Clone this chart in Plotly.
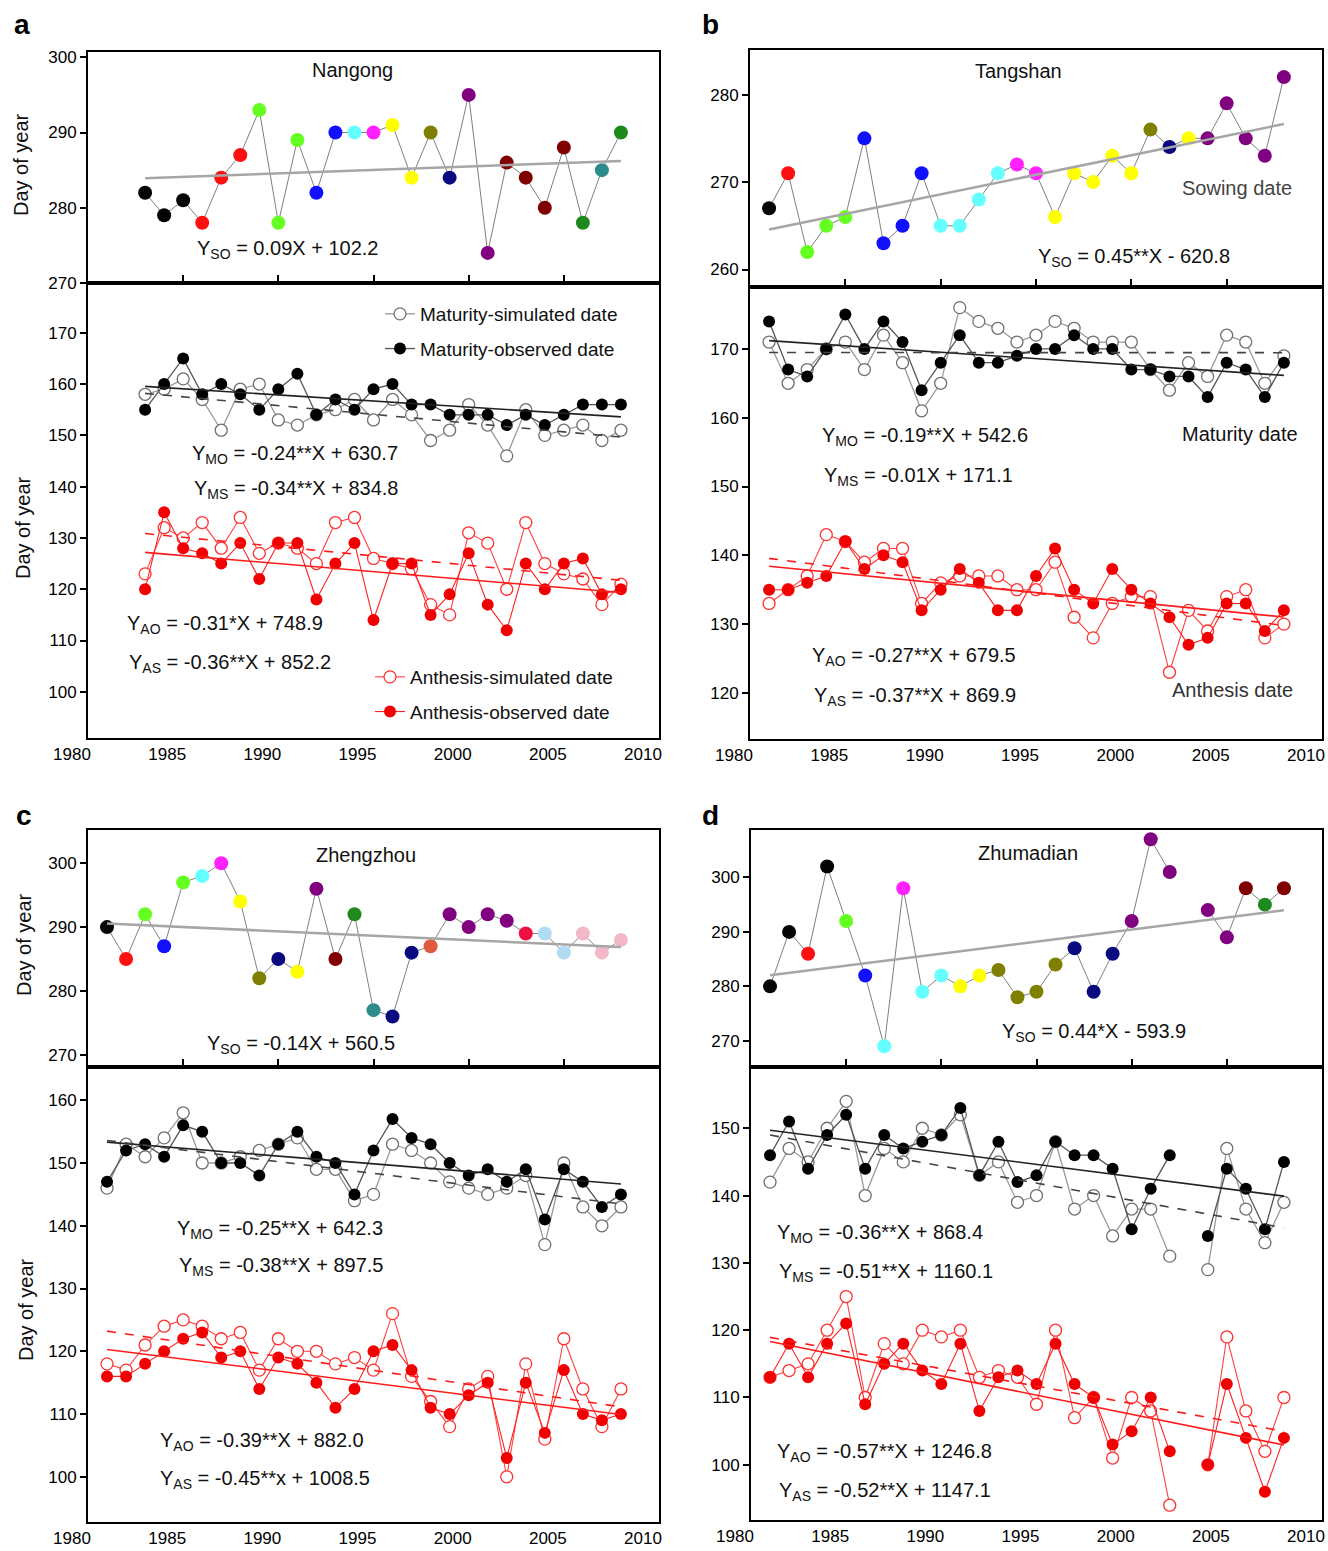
import numpy as np
import plotly.graph_objects as go

W, H = 1328, 1551
FONT = "Arial, 'Liberation Sans', sans-serif"


def fx(p):
    return p / W


def fy(p):
    return 1 - p / H


# ---------------- data ----------------
years_a = list(range(1983, 2009))
years_bcd = list(range(1981, 2009))

# Panel a  Nangong
a_sow = [282, 279, 281, 278, 284, 287, 293, 278, 289, 282, 290, 290, 290, 291, 284, 290, 284, 295, 274, 286, 284, 280, 288, 278, 285, 290]
a_mat_obs = [155, 160, 165, 158, 160, 158, 155, 159, 162, 154, 157, 155, 159, 160, 156, 156, 154, 154, 154, 152, 154, 152, 154, 156, 156, 156]
a_mat_sim = [158, 159, 161, 157, 151, 159, 160, 153, 152, 154, 155, 157, 153, 157, 154, 149, 151, 156, 152, 146, 155, 150, 151, 152, 149, 151]
a_ant_obs = [120, 135, 128, 127, 125, 129, 122, 129, 129, 118, 125, 129, 114, 125, 125, 115, 119, 127, 117, 112, 125, 120, 125, 126, 119, 120]
a_ant_sim = [123, 132, 130, 133, 128, 134, 127, 129, 128, 125, 133, 134, 126, 125, 124, 117, 115, 131, 129, 120, 133, 125, 123, 122, 117, 121]

# Panel b  Tangshan
b_sow = [267, 271, 262, 265, 266, 275, 263, 265, 271, 265, 265, 268, 271, 272, 271, 266, 271, 270, 273, 271, 276, 274, 275, 275, 279, 275, 273, 282]
b_mat_obs = [174, 167, 166, 170, 175, 170, 174, 171, 164, 168, 172, 168, 168, 169, 170, 170, 172, 170, 170, 167, 167, 166, 166, 163, 168, 167, 163, 168]
b_mat_sim = [171, 165, 167, 170, 171, 167, 172, 168, 161, 165, 176, 174, 173, 171, 172, 174, 173, 171, 171, 171, 167, 164, 168, 166, 172, 171, 165, 169]
b_ant_obs = [135, 135, 136, 137, 142, 138, 140, 139, 132, 135, 138, 136, 132, 132, 137, 141, 135, 133, 138, 135, 133, 131, 127, 128, 133, 133, 129, 132]
b_ant_sim = [133, 135, 137, 143, 142, 139, 141, 141, 133, 136, 137, 137, 137, 135, 135, 139, 131, 128, 133, 134, 134, 123, 132, 129, 134, 135, 128, 130]

# Panel c  Zhengzhou
c_sow = [290, 285, 292, 287, 297, 298, 300, 294, 282, 285, 283, 296, 285, 292, 277, 276, 286, 287, 292, 290, 292, 291, 289, 289, 286, 289, 286, 288]
c_mat_obs = [147, 152, 153, 151, 156, 155, 150, 150, 148, 153, 155, 151, 150, 145, 152, 157, 154, 153, 150, 148, 149, 147, 149, 141, 149, 147, 143, 145]
c_mat_sim = [146, 153, 151, 154, 158, 150, 150, 151, 152, 153, 154, 149, 149, 144, 145, 153, 152, 150, 147, 146, 145, 146, 148, 137, 150, 143, 140, 143]
c_ant_obs = [116, 116, 118, 120, 122, 123, 119, 120, 114, 119, 118, 115, 111, 114, 120, 121, 117, 111, 110, 113, 115, 103, 115, 107, 117, 110, 109, 110]
c_ant_sim = [118, 117, 121, 124, 125, 124, 122, 123, 117, 122, 120, 120, 118, 119, 117, 126, 116, 112, 108, 114, 116, 100, 118, 106, 122, 114, 108, 114]

# Panel d  Zhumadian (2003 missing)
d_sow = [280, 290, 286, 302, 292, 282, 269, 298, 279, 282, 280, 282, 283, 278, 279, 284, 287, 279, 286, 292, 307, 301, None, 294, 289, 298, 295, 298]
d_mat_obs = [146, 151, 144, 149, 152, 144, 149, 147, 148, 149, 153, 143, 148, 142, 143, 148, 146, 146, 144, 135, 141, 146, None, 134, 144, 141, 135, 145]
d_mat_sim = [142, 147, 145, 150, 154, 140, 147, 145, 150, 149, 152, 143, 145, 139, 140, 148, 138, 140, 134, 138, 138, 131, None, 129, 147, 138, 133, 139]
d_ant_obs = [113, 118, 113, 118, 121, 109, 115, 118, 114, 112, 118, 108, 113, 114, 112, 118, 112, 110, 103, 105, 110, 102, None, 100, 112, 104, 96, 104]
d_ant_sim = [113, 114, 115, 120, 125, 110, 118, 115, 120, 119, 120, 113, 114, 113, 109, 120, 107, 110, 101, 110, 108, 94, None, 100, 119, 108, 102, 110]

stations = ["Nangong", "Tangshan", "Zhengzhou", "Zhumadian"]
panel_letters = ["a", "b", "c", "d"]
x_ticks_top = [1985, 1990, 1995, 2000, 2005]
x_ticks_bottom = [1980, 1985, 1990, 1995, 2000, 2005, 2010]

eq_a = ["Y<sub>SO</sub> = 0.09X + 102.2", "Y<sub>MO</sub> = -0.24**X + 630.7", "Y<sub>MS</sub> = -0.34**X + 834.8",
        "Y<sub>AO</sub> = -0.31*X + 748.9", "Y<sub>AS</sub> = -0.36**X + 852.2"]
eq_b = ["Y<sub>SO</sub> = 0.45**X - 620.8", "Y<sub>MO</sub> = -0.19**X + 542.6", "Y<sub>MS</sub> = -0.01X + 171.1",
        "Y<sub>AO</sub> = -0.27**X + 679.5", "Y<sub>AS</sub> = -0.37**X + 869.9"]
eq_c = ["Y<sub>SO</sub> = -0.14X + 560.5", "Y<sub>MO</sub> = -0.25**X + 642.3", "Y<sub>MS</sub> = -0.38**X + 897.5",
        "Y<sub>AO</sub> = -0.39**X + 882.0", "Y<sub>AS</sub> = -0.45**x + 1008.5"]
eq_d = ["Y<sub>SO</sub> = 0.44*X - 593.9", "Y<sub>MO</sub> = -0.36**X + 868.4", "Y<sub>MS</sub> = -0.51**X + 1160.1",
        "Y<sub>AO</sub> = -0.57**X + 1246.8", "Y<sub>AS</sub> = -0.52**X + 1147.1"]

# ---------------- styles ----------------
K, R, L, B, C, M, Y = "#050505", "#ff1010", "#66ff22", "#1010ff", "#66ffff", "#ff22ff", "#ffff00"
O, N, P, MR, G, T = "#7f7f00", "#0a0a80", "#800080", "#800000", "#1e8a1e", "#2e8b8b"
TOM, CR, LB, PK = "#e05a40", "#ee1040", "#b0dcf5", "#f2b8c8"

a_sow_colors = [K, K, K, R, R, R, L, L, L, B, B, C, M, Y, Y, O, N, P, P, MR, MR, MR, MR, G, T, G]
b_sow_colors = [K, R, L, L, L, B, B, B, B, C, C, C, C, M, M, Y, Y, Y, Y, Y, O, N, Y, P, P, P, P, P]
c_sow_colors = [K, R, L, B, L, C, M, Y, O, N, Y, P, MR, G, T, N, N, TOM, P, P, P, P, CR, LB, LB, PK, PK, PK]
d_sow_colors = [K, K, R, K, L, B, C, M, C, C, Y, Y, O, O, O, O, N, N, N, P, P, P, K, P, P, MR, G, MR]

panels = [
    dict(xpx=(88, 659), top=(52, 283), bot=(283, 738), tr=[270, 300.7], br=[91.0, 179.7],
         tt=[270, 280, 290, 300], bt=[100, 110, 120, 130, 140, 150, 160, 170],
         years=years_a, sow=a_sow, col=a_sow_colors, mo=a_mat_obs, ms=a_mat_sim, ao=a_ant_obs, as_=a_ant_sim),
    dict(xpx=(750, 1322), top=(50, 287), bot=(287, 739), tr=[258.0, 285.1], br=[113.3, 179.0],
         tt=[260, 270, 280], bt=[120, 130, 140, 150, 160, 170],
         years=years_bcd, sow=b_sow, col=b_sow_colors, mo=b_mat_obs, ms=b_mat_sim, ao=b_ant_obs, as_=b_ant_sim),
    dict(xpx=(88, 659), top=(830, 1067), bot=(1067, 1522), tr=[268.1, 305.2], br=[92.8, 165.3],
         tt=[270, 280, 290, 300], bt=[100, 110, 120, 130, 140, 150, 160],
         years=years_bcd, sow=c_sow, col=c_sow_colors, mo=c_mat_obs, ms=c_mat_sim, ao=c_ant_obs, as_=c_ant_sim),
    dict(xpx=(751, 1322), top=(830, 1067), bot=(1067, 1520), tr=[265.2, 308.7], br=[91.8, 159.1],
         tt=[270, 280, 290, 300], bt=[100, 110, 120, 130, 140, 150],
         years=years_bcd, sow=d_sow, col=d_sow_colors, mo=d_mat_obs, ms=d_mat_sim, ao=d_ant_obs, as_=d_ant_sim),
]


def xr(n):
    return "x" if n == 1 else f"x{n}"


def yr(n):
    return "y" if n == 1 else f"y{n}"


def xname(n):
    return "xaxis" if n == 1 else f"xaxis{n}"


def yname(n):
    return "yaxis" if n == 1 else f"yaxis{n}"


def trend(years, vals):
    xs = np.array([yv for yv, v in zip(years, vals) if v is not None], float)
    ys = np.array([v for v in vals if v is not None], float)
    k, b = np.polyfit(xs, ys, 1)
    return [xs[0], xs[-1]], [k * xs[0] + b, k * xs[-1] + b]


fig = go.Figure()
layout = {}

for i, p in enumerate(panels):
    nt, nb, no = 2 * i + 1, 2 * i + 2, 9 + i
    yrs = p["years"]
    first = (i == 0)

    # ---- sowing (top) ----
    fig.add_trace(go.Scatter(x=yrs, y=p["sow"], mode="lines+markers", connectgaps=False,
                             line=dict(color="#808080", width=1),
                             marker=dict(size=14, color=p["col"], line=dict(width=0)),
                             xaxis=xr(nt), yaxis=yr(nt), showlegend=False))
    tx, ty = trend(yrs, p["sow"])
    fig.add_trace(go.Scatter(x=tx, y=ty, mode="lines", line=dict(color="#a6a6a6", width=2.5),
                             xaxis=xr(nt), yaxis=yr(nt), showlegend=False))

    # ---- maturity ----
    fig.add_trace(go.Scatter(x=yrs, y=p["ms"], mode="lines+markers", connectgaps=False,
                             name="Maturity-simulated date", legend="legend", legendgroup="ms",
                             line=dict(color="#9a9a9a", width=1.3),
                             marker=dict(size=12, color="white", line=dict(color="#707070", width=1.3)),
                             xaxis=xr(nb), yaxis=yr(nb), showlegend=first))
    fig.add_trace(go.Scatter(x=yrs, y=p["mo"], mode="lines+markers", connectgaps=False,
                             name="Maturity-observed date", legend="legend", legendgroup="mo",
                             line=dict(color="#555555", width=1.3),
                             marker=dict(size=12, color="black"),
                             xaxis=xr(nb), yaxis=yr(nb), showlegend=first))
    # ---- anthesis ----
    fig.add_trace(go.Scatter(x=yrs, y=p["as_"], mode="lines+markers", connectgaps=False,
                             name="Anthesis-simulated date", legend="legend2", legendgroup="as",
                             line=dict(color="#ff4040", width=1.1),
                             marker=dict(size=12, color="white", line=dict(color="#ff3030", width=1.3)),
                             xaxis=xr(nb), yaxis=yr(nb), showlegend=first))
    fig.add_trace(go.Scatter(x=yrs, y=p["ao"], mode="lines+markers", connectgaps=False,
                             name="Anthesis-observed date", legend="legend2", legendgroup="ao",
                             line=dict(color="#ff2020", width=1.1),
                             marker=dict(size=12, color="#f00000"),
                             xaxis=xr(nb), yaxis=yr(nb), showlegend=first))
    # ---- trends ----
    for vals, color, dash in [(p["mo"], "#222222", "solid"), (p["ms"], "#444444", "dash"),
                              (p["ao"], "#ff1a1a", "solid"), (p["as_"], "#ff1a1a", "dash")]:
        tx, ty = trend(yrs, vals)
        fig.add_trace(go.Scatter(x=tx, y=ty, mode="lines", line=dict(color=color, width=1.6, dash=dash),
                                 xaxis=xr(nb), yaxis=yr(nb), showlegend=False))

    x0, x1 = p["xpx"]
    axis_common = dict(showline=True, linecolor="black", linewidth=2, mirror=True, automargin=False,
                       showgrid=False, zeroline=False, tickcolor="black", tickwidth=1.5,
                       tickfont=dict(size=17, color="black", family=FONT))
    layout[xname(nt)] = dict(axis_common, domain=[fx(x0), fx(x1)], range=[1980, 2010], anchor=yr(nt),
                             ticks="inside", ticklen=8, tickvals=x_ticks_top, showticklabels=False)
    layout[yname(nt)] = dict(axis_common, domain=[fy(p["top"][1]), fy(p["top"][0])], range=p["tr"],
                             anchor=xr(nt), ticks="outside", ticklen=6, tickvals=p["tt"])
    layout[xname(nb)] = dict(axis_common, domain=[fx(x0), fx(x1)], range=[1980, 2010], anchor=yr(nb),
                             ticks="", tickvals=x_ticks_bottom, ticklabelshift=-16)
    layout[yname(nb)] = dict(axis_common, domain=[fy(p["bot"][1]), fy(p["bot"][0])], range=p["br"],
                             anchor=xr(nb), ticks="outside", ticklen=6, tickvals=p["bt"])
    layout[xname(no)] = dict(overlaying=xr(nb), anchor=yr(nb), side="top", range=[1980, 2010], automargin=False,
                             tickvals=x_ticks_top, ticks="inside", ticklen=8, tickwidth=1.5, tickcolor="black",
                             showticklabels=False, showline=False, showgrid=False, zeroline=False)

annotations = []


def ann(text, x, y, xanchor="left", size=20, color="#111111", bold=False, angle=0):
    annotations.append(dict(text=f"<b>{text}</b>" if bold else text, x=fx(x), y=fy(y), xref="paper", yref="paper",
                            xanchor=xanchor, yanchor="middle", showarrow=False, textangle=angle,
                            font=dict(size=size, color=color, family=FONT)))


# panel letters
ann(panel_letters[0], 12, 25, size=28, bold=True, color="black")
ann(panel_letters[1], 700, 25, size=28, bold=True, color="black")
ann(panel_letters[2], 14, 815, size=28, bold=True, color="black")
ann(panel_letters[3], 700, 815, size=28, bold=True, color="black")

# station names
ann(stations[0], 353, 70, xanchor="center")
ann(stations[1], 1018, 71, xanchor="center")
ann(stations[2], 366, 855, xanchor="center")
ann(stations[3], 1028, 853, xanchor="center")

# y titles
ann("Day of year", 21, 165, xanchor="center", angle=-90)
ann("Day of year", 23, 528, xanchor="center", angle=-90)
ann("Day of year", 24, 945, xanchor="center", angle=-90)
ann("Day of year", 26, 1310, xanchor="center", angle=-90)

# side labels in b
ann("Sowing date", 1237, 188, xanchor="center", color="#444444")
ann("Maturity date", 1240, 434, xanchor="center")
ann("Anthesis date", 1232, 690, xanchor="center", color="#333333")

# equations
eq_pos = [
    (eq_a, [(195, 250), (190, 454), (192, 489), (125, 625), (127, 663)]),
    (eq_b, [(1036, 258), (820, 436), (822, 476), (810, 656), (812, 696)]),
    (eq_c, [(205, 1044), (175, 1229), (177, 1266), (158, 1441), (158, 1479)]),
    (eq_d, [(1000, 1032), (775, 1233), (777, 1272), (775, 1452), (777, 1491)]),
]
for eqs, poss in eq_pos:
    for t, (x, y) in zip(eqs, poss):
        ann(t, x, y)

fig.update_layout(
    width=W, height=H, margin=dict(l=0, r=0, t=0, b=0, autoexpand=False),
    paper_bgcolor="white", plot_bgcolor="white",
    font=dict(family=FONT, color="black"),
    showlegend=True,
    legend=dict(x=fx(380), y=fy(295), xanchor="left", yanchor="top", bgcolor="rgba(0,0,0,0)",
                font=dict(size=19, family=FONT, color="#111111"), tracegroupgap=7, itemwidth=30),
    legend2=dict(x=fx(370), y=fy(658), xanchor="left", yanchor="top", bgcolor="rgba(0,0,0,0)",
                 font=dict(size=19, family=FONT, color="#111111"), tracegroupgap=7, itemwidth=30),
    annotations=annotations,
    **layout,
)

fig.write_html("out.html")
